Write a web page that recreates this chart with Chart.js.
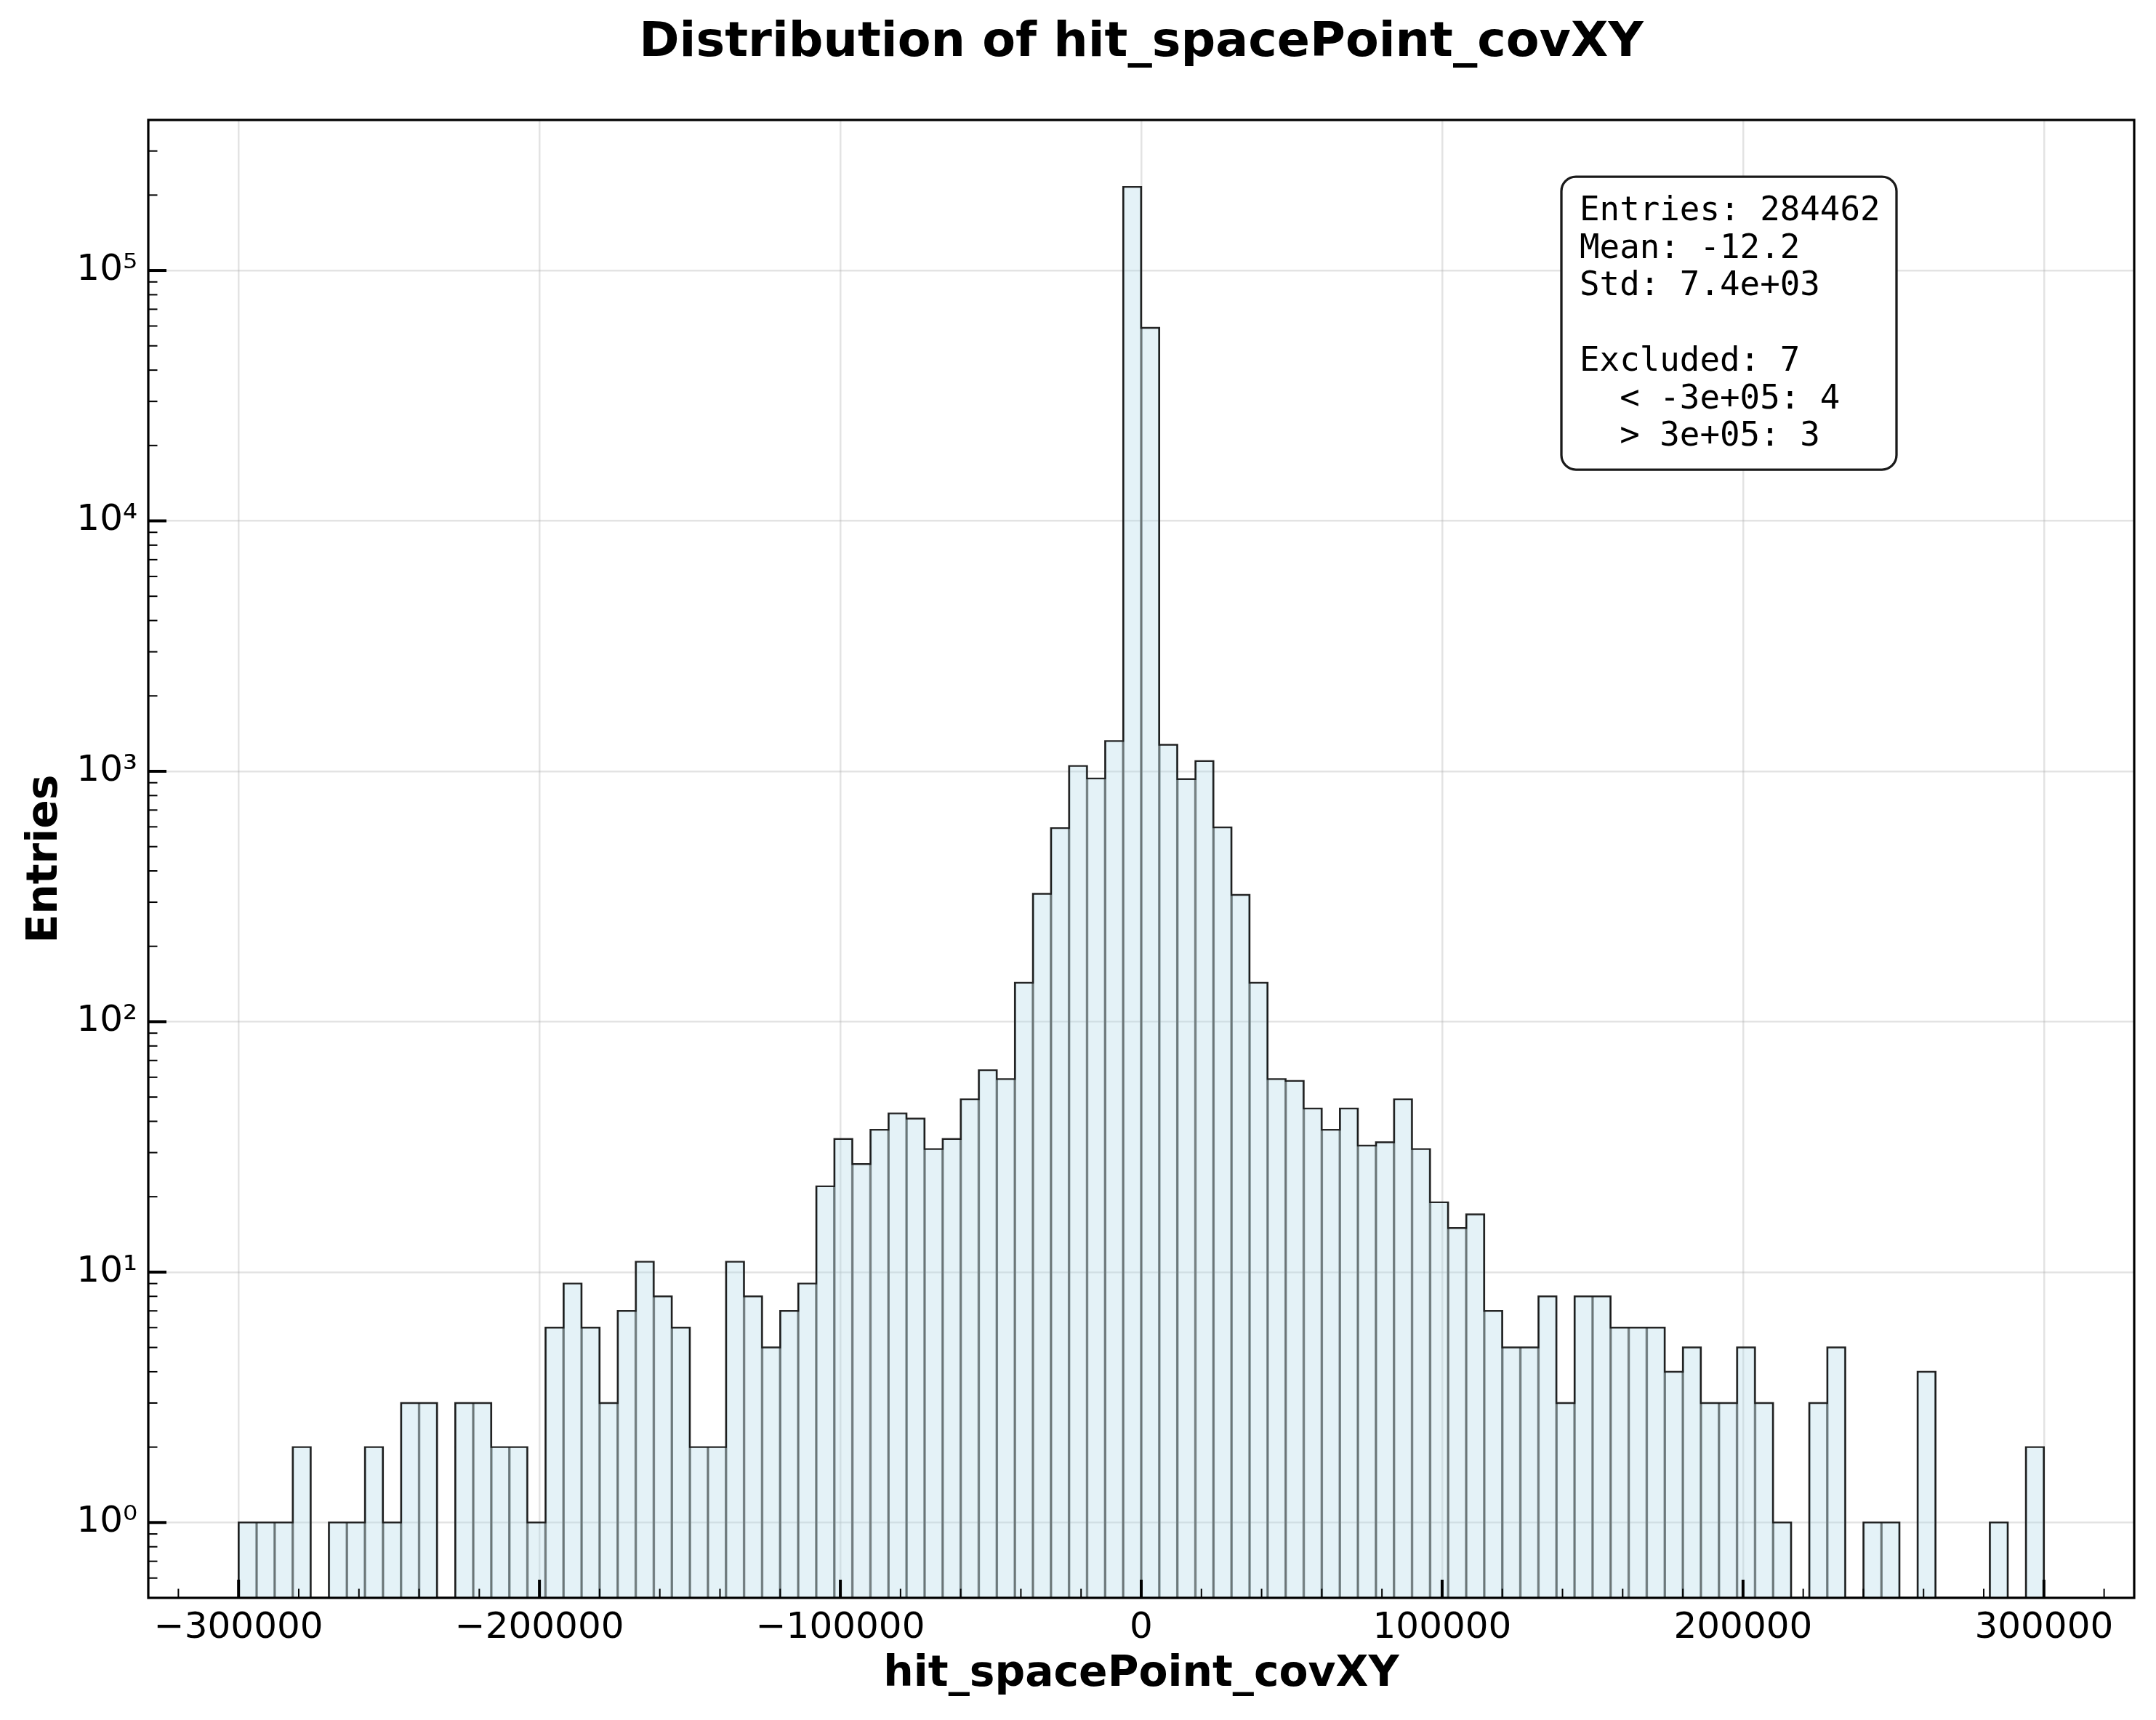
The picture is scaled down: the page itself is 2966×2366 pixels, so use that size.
<!DOCTYPE html>
<html>
<head>
<meta charset="utf-8">
<script src="https://cdn.jsdelivr.net/npm/chart.js@4.4.1/dist/chart.umd.min.js"></script>
<style>
  html, body { margin: 0; padding: 0; background: #ffffff; }
  canvas { display: block; }
</style>
</head>
<body>
<canvas id="chart" width="2966" height="2366"></canvas>
<script>
// ---------------- data ----------------
const titleText = 'Distribution of hit_spacePoint_covXY';
const xLabel = 'hit_spacePoint_covXY';
const yLabel = 'Entries';

const binStart = -300000;   // lower edge of first bin
const binWidth = 6000;      // 100 bins up to +300000

// entries per bin (left to right)
const counts = [
  1, 1, 1, 2, 0, 1, 1, 2, 1, 3,
  3, 0, 3, 3, 2, 2, 1, 6, 9, 6,
  3, 7, 11, 8, 6, 2, 2, 11, 8, 5,
  7, 9, 22, 34, 27, 37, 43, 41, 31, 34,
  49, 64, 59, 143, 324, 593, 1050, 936, 1320, 215600,
  59000, 1276, 930, 1099, 597, 321, 143, 59, 58, 45,
  37, 45, 32, 33, 49, 31, 19, 15, 17, 7,
  5, 5, 8, 3, 8, 8, 6, 6, 6, 4,
  5, 3, 3, 5, 3, 1, 0, 3, 5, 0,
  1, 1, 0, 4, 0, 0, 0, 1, 0, 2
];

const xTickValues = [-300000, -200000, -100000, 0, 100000, 200000, 300000];
const xMinorTickValues = [-320000, -280000, -260000, -240000, -220000, -180000, -160000, -140000, -120000,
  -80000, -60000, -40000, -20000, 20000, 40000, 60000, 80000, 120000, 140000, 160000, 180000,
  220000, 240000, 260000, 280000, 320000];
const yTickValues = [1, 10, 100, 1000, 10000, 100000];

const statsLines = [
  'Entries: 284462',
  'Mean: -12.2',
  'Std: 7.4e+03',
  '',
  'Excluded: 7',
  '  < -3e+05: 4',
  '  > 3e+05: 3'
];

// ---------------- derived datasets ----------------
const xMin = -330000, xMax = 330000;
const yMin = 0.5, yMax = 3.99e5;

const barPoints = counts.map((c, i) => ({
  x: binStart + binWidth * (i + 0.5),
  y: c > 0 ? c : null
}));
// step outline along the histogram (empty bins drop to the axis floor)
const outlinePoints = [{ x: binStart, y: yMin }];
counts.forEach((c, i) => outlinePoints.push({ x: binStart + binWidth * i, y: c > 0 ? c : yMin }));
outlinePoints.push({ x: binStart + binWidth * counts.length, y: yMin });

const supDigits = { '0': '\u2070', '1': '\u00B9', '2': '\u00B2', '3': '\u00B3', '4': '\u2074',
  '5': '\u2075', '6': '\u2076', '7': '\u2077', '8': '\u2078', '9': '\u2079', '-': '\u207B' };
function logLabel(v) {
  const e = Math.round(Math.log10(v));
  return '10' + String(e).split('').map(ch => supDigits[ch]).join('');
}
function xLabelFmt(v) {
  return v < 0 ? '\u2212' + Math.abs(v) : String(v);
}

// ---------------- decorations: inward ticks, frame, stats box ----------------
const decor = {
  id: 'decor',
  afterDraw(chart) {
    const { ctx, chartArea: a, scales: { x, y } } = chart;
    ctx.save();
    ctx.strokeStyle = '#000';
    ctx.lineCap = 'butt';
    // x ticks (inward)
    ctx.lineWidth = 4;
    xTickValues.forEach(v => {
      const px = x.getPixelForValue(v);
      ctx.beginPath(); ctx.moveTo(px, a.bottom); ctx.lineTo(px, a.bottom - 25); ctx.stroke();
    });
    ctx.lineWidth = 2;
    xMinorTickValues.forEach(v => {
      const px = x.getPixelForValue(v);
      ctx.beginPath(); ctx.moveTo(px, a.bottom); ctx.lineTo(px, a.bottom - 12.5); ctx.stroke();
    });
    // y ticks (inward)
    ctx.lineWidth = 4;
    yTickValues.forEach(v => {
      const py = y.getPixelForValue(v);
      ctx.beginPath(); ctx.moveTo(a.left, py); ctx.lineTo(a.left + 25, py); ctx.stroke();
    });
    ctx.lineWidth = 2;
    for (let e = -1; e <= 5; e++) {
      for (let k = 2; k <= 9; k++) {
        const v = k * Math.pow(10, e);
        if (v <= yMin * 1.001 || v >= yMax * 0.999) continue;
        const py = y.getPixelForValue(v);
        ctx.beginPath(); ctx.moveTo(a.left, py); ctx.lineTo(a.left + 12.5, py); ctx.stroke();
      }
    }
    // frame
    ctx.lineWidth = 3.2;
    ctx.strokeRect(a.left, a.top, a.right - a.left, a.bottom - a.top);

    // stats box
    const bx = a.left + 1944, by = a.top + 78, bw = 461, bh = 403, r = 20;
    ctx.beginPath();
    ctx.moveTo(bx + r, by);
    ctx.lineTo(bx + bw - r, by);
    ctx.arcTo(bx + bw, by, bx + bw, by + r, r);
    ctx.lineTo(bx + bw, by + bh - r);
    ctx.arcTo(bx + bw, by + bh, bx + bw - r, by + bh, r);
    ctx.lineTo(bx + r, by + bh);
    ctx.arcTo(bx, by + bh, bx, by + bh - r, r);
    ctx.lineTo(bx, by + r);
    ctx.arcTo(bx, by, bx + r, by, r);
    ctx.closePath();
    ctx.fillStyle = '#ffffff';
    ctx.fill();
    ctx.lineWidth = 3.3;
    ctx.strokeStyle = '#1a1a1a';
    ctx.stroke();
    ctx.fillStyle = '#000';
    ctx.font = '45.8px "DejaVu Sans Mono"';
    ctx.textAlign = 'left';
    ctx.textBaseline = 'alphabetic';
    statsLines.forEach((t, i) => {
      ctx.fillText(t, bx + 25, by + 60 + i * 51.7);
    });
    ctx.restore();
  }
};

// ---------------- chart ----------------
const ctx = document.getElementById('chart').getContext('2d');
new Chart(ctx, {
  type: 'bar',
  data: {
    datasets: [
      {
        type: 'line',
        data: outlinePoints,
        stepped: 'before',
        borderColor: 'rgba(20,20,20,0.92)',
        borderWidth: 2.4,
        pointRadius: 0,
        fill: false,
        tension: 0,
        order: 0
      },
      {
        type: 'bar',
        data: barPoints,
        backgroundColor: 'rgba(173,216,230,0.33)',
        borderColor: '#6c7576',
        borderWidth: { left: 1.4, right: 1.4, top: 0, bottom: 0 },
        borderSkipped: 'start',
        barPercentage: 1.0,
        categoryPercentage: 1.0,
        grouped: false,
        order: 1
      }
    ]
  },
  options: {
    responsive: false,
    animation: false,
    devicePixelRatio: 1,
    layout: { padding: { left: 0, right: 30, top: 0, bottom: 0 } },
    plugins: {
      legend: { display: false },
      tooltip: { enabled: false },
      title: {
        display: true,
        fullSize: false,
        text: titleText,
        color: '#000',
        font: { family: 'DejaVu Sans', size: 66.7, weight: 'bold', lineHeight: 1.2 },
        padding: { top: 20, bottom: 65 }
      }
    },
    scales: {
      x: {
        type: 'linear',
        min: xMin,
        max: xMax,
        offset: false,
        afterBuildTicks: s => { s.ticks = xTickValues.map(v => ({ value: v })); },
        afterFit: s => { s.height = 168; },
        ticks: {
          callback: v => xLabelFmt(v),
          color: '#000',
          font: { family: 'DejaVu Sans', size: 50 },
          padding: 12,
          maxRotation: 0,
          autoSkip: false
        },
        grid: { color: 'rgba(176,176,176,0.35)', lineWidth: 2.5, drawTicks: false, tickLength: 0, offset: false },
        border: { display: false },
        title: {
          display: true,
          text: xLabel,
          color: '#000',
          font: { family: 'DejaVu Sans', size: 58.3, weight: 'bold', lineHeight: 1.2 },
          padding: { top: 0, bottom: 27 }
        }
      },
      y: {
        type: 'logarithmic',
        min: yMin,
        max: yMax,
        afterBuildTicks: s => { s.ticks = yTickValues.map(v => ({ value: v, major: true })); },
        afterFit: s => { s.width = 204; },
        ticks: {
          callback: v => logLabel(v),
          color: '#000',
          font: { family: 'DejaVu Sans', size: 50 },
          padding: 15,
          autoSkip: false
        },
        grid: { color: 'rgba(176,176,176,0.35)', lineWidth: 2.5, drawTicks: false, tickLength: 0 },
        border: { display: false },
        title: {
          display: true,
          text: yLabel,
          color: '#000',
          font: { family: 'DejaVu Sans', size: 58.3, weight: 'bold', lineHeight: 1.2 },
          padding: { top: 28, bottom: 0 }
        }
      }
    }
  },
  plugins: [decor]
});
</script>
</body>
</html>
